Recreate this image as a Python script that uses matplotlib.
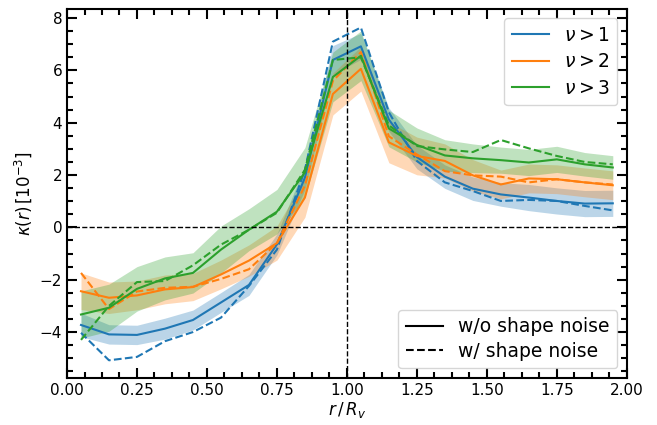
import numpy as np
import matplotlib
matplotlib.use("Agg")
import matplotlib.pyplot as plt
from matplotlib.ticker import AutoMinorLocator, MultipleLocator
from matplotlib.lines import Line2D

r_bins = [0.05, 0.15, 0.25, 0.35, 0.45, 0.55, 0.65, 0.75, 0.85, 0.95,
          1.05, 1.15, 1.25, 1.35, 1.45, 1.55, 1.65, 1.75, 1.85, 1.95]

labels = [r"$\nu > 1$", r"$\nu > 2$", r"$\nu > 3$"]
colors = ["#1f77b4", "#ff7f0e", "#2ca02c"]

# without shape noise (solid)
kappa_nu1 = [-3.73, -4.09, -4.11, -3.87, -3.54, -2.87, -2.20, -0.65, 1.90, 6.40,
             6.92, 4.12, 2.69, 1.94, 1.48, 1.26, 1.14, 1.01, 0.91, 0.92]
kappa_nu2 = [-2.44, -2.69, -2.60, -2.37, -2.28, -1.80, -1.27, -0.60, 1.14, 5.10,
             6.06, 3.25, 2.73, 2.54, 1.99, 1.64, 1.87, 1.84, 1.72, 1.61]
kappa_nu3 = [-3.33, -3.07, -2.35, -1.95, -1.74, -0.85, -0.09, 0.60, 2.10, 5.75,
             6.56, 3.78, 3.15, 2.75, 2.64, 2.57, 2.48, 2.60, 2.41, 2.29]

# with shape noise (dashed)
kappa_sn_nu1 = [-4.03, -5.08, -4.95, -4.35, -4.00, -3.45, -2.24, -0.85, 2.20, 7.10,
                7.64, 4.40, 2.54, 1.72, 1.39, 1.01, 1.05, 1.01, 0.82, 0.65]
kappa_sn_nu2 = [-1.74, -3.12, -2.45, -2.31, -2.27, -1.97, -1.60, -0.60, 1.60, 5.60,
                6.70, 3.48, 2.79, 2.15, 1.99, 1.94, 1.72, 1.84, 1.72, 1.64]
kappa_sn_nu3 = [-4.30, -3.00, -2.09, -2.05, -1.45, -0.66, -0.09, 0.56, 2.20, 6.40,
                6.50, 3.90, 3.11, 2.98, 2.88, 3.34, 3.02, 2.73, 2.50, 2.41]

# 1-sigma errors (shaded bands around the solid curves)
err_nu1 = [0.45, 0.37, 0.37, 0.40, 0.38, 0.38, 0.40, 0.40, 0.45, 0.55,
           0.50, 0.45, 0.45, 0.45, 0.45, 0.45, 0.50, 0.50, 0.50, 0.50]
err_nu2 = [0.70, 0.60, 0.55, 0.55, 0.52, 0.55, 0.60, 0.65, 0.75, 0.80,
           0.85, 0.78, 0.72, 0.65, 0.60, 0.55, 0.55, 0.55, 0.55, 0.55]
err_nu3 = [0.90, 0.90, 0.85, 0.82, 0.77, 0.90, 0.80, 0.85, 0.95, 0.95,
           0.95, 0.70, 0.65, 0.60, 0.55, 0.50, 0.50, 0.50, 0.45, 0.45]

solid = [kappa_nu1, kappa_nu2, kappa_nu3]
dashed = [kappa_sn_nu1, kappa_sn_nu2, kappa_sn_nu3]
errs = [err_nu1, err_nu2, err_nu3]

fig = plt.figure(figsize=(6.57, 4.25), dpi=100)
ax = fig.add_axes([0.102, 0.111, 0.852, 0.868])

x = np.array(r_bins)
for k in range(3):
    y = np.array(solid[k])
    e = np.array(errs[k])
    ax.fill_between(x, y - e, y + e, color=colors[k], alpha=0.3, lw=0)
    ax.plot(x, y, color=colors[k], lw=1.5)
    ax.plot(x, dashed[k], color=colors[k], lw=1.5, ls="--")

ax.axhline(0, color="k", ls="--", lw=1)
ax.axvline(1, color="k", ls="--", lw=1)

ax.set_xlim(0, 2)
ax.set_ylim(-5.75, 8.35)
ax.xaxis.set_major_locator(MultipleLocator(0.25))
ax.yaxis.set_major_locator(MultipleLocator(2))
ax.xaxis.set_minor_locator(AutoMinorLocator(4))
ax.yaxis.set_minor_locator(AutoMinorLocator(4))
ax.tick_params(which="both", direction="in", top=True, right=True, width=1.5, labelsize=11)
ax.tick_params(which="major", length=7.5)
ax.tick_params(which="minor", length=4)
for s in ax.spines.values():
    s.set_linewidth(1.5)

ax.set_xlabel(r"$r\,/\,R_v$", fontsize=12, labelpad=2)
ax.set_ylabel(r"$\kappa(r)\,[10^{-3}]$", fontsize=12, labelpad=4)

h1 = [Line2D([], [], color=c, lw=1.5) for c in colors]
leg1 = ax.legend(h1, labels, loc="upper right", fontsize=13.5, labelspacing=0.4)
ax.add_artist(leg1)
h2 = [Line2D([], [], color="k", lw=1.5), Line2D([], [], color="k", lw=1.5, ls="--")]
ax.legend(h2, ["w/o shape noise", "w/ shape noise"], loc="lower right",
          fontsize=13.5, labelspacing=0.3)

fig.savefig("out.png", dpi=100)
